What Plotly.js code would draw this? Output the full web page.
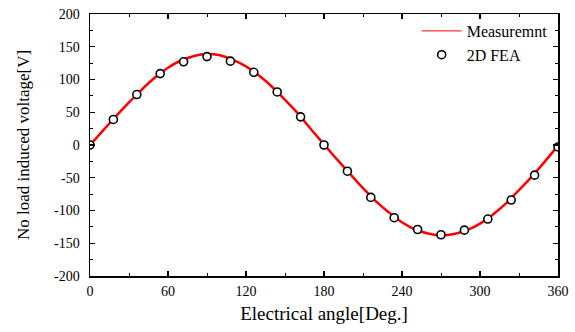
<!DOCTYPE html>
<html>
<head>
<meta charset="utf-8">
<script src="https://cdn.plot.ly/plotly-3.0.1.min.js"></script>
<style>html,body{margin:0;padding:0;background:#fff;}#chart{width:575px;height:332px;}</style>
</head>
<body>
<div id="chart"></div>
<script>
// Measurement (continuous line)
const measAngle = [0,10,20,30,40,50,60,70,80,90,100,110,120,130,140,150,160,170,180,
  190,200,210,220,230,240,250,260,270,280,290,300,310,320,330,340,350,360];
const measVolt = [0,22,44,65,85,103,118,129,136,139,137,130,120,106,89,69,48,24,1,
  -22,-44,-66,-86,-103,-118,-129,-135,-138,-136,-130,-120,-106,-89,-69,-48,-25,-1];
// 2D FEA (markers)
const feaAngle = [0,18,36,54,72,90,108,126,144,162,180,198,216,234,252,270,288,306,324,342,360];
const feaVolt = [0,39,77,109,127,135,128,111,81,43,0,-40,-80,-111,-129,-137,-130,-113,-84,-46,-3];

const xTicks = [0,60,120,180,240,300,360];
const yTicks = [-200,-150,-100,-50,0,50,100,150,200];

const font = "Liberation Serif, Times New Roman, serif";

const traces = [
  {x: measAngle, y: measVolt, name: 'Measuremnt', mode: 'lines', type: 'scatter', showlegend: false,
   line: {color: '#ff0000', width: 2.5, shape: 'spline'}},
  // legend entry only (thin sample line as in the reference)
  {x: [null], y: [null], name: 'Measuremnt', mode: 'lines', type: 'scatter',
   line: {color: '#ff0000', width: 1}},
  {x: feaAngle, y: feaVolt, name: '2D FEA', mode: 'markers', type: 'scatter',
   marker: {symbol: 'circle', size: 8, color: '#ffffff', line: {color: '#000000', width: 1.6}}}
];

const layout = {
  width: 575, height: 332,
  margin: {l: 90, r: 17, t: 14, b: 56},
  paper_bgcolor: '#fff', plot_bgcolor: '#fff',
  font: {family: font, size: 14, color: '#000'},
  showlegend: true,
  legend: {x: 0.698, y: 1.0, xanchor: 'left', yanchor: 'top', bgcolor: 'rgba(0,0,0,0)',
    font: {family: font, size: 16, color: '#000'}, itemwidth: 40, tracegroupgap: 0},
  xaxis: {
    range: [0, 360], tickvals: xTicks, ticktext: xTicks.map(String),
    ticks: 'inside', ticklen: 5, tickwidth: 1.2, tickcolor: '#000',
    minor: {dtick: 30, tick0: 0, ticks: 'inside', ticklen: 3, tickcolor: '#000', tickwidth: 1},
    showline: true, linecolor: '#000', linewidth: 1.5, mirror: 'allticks',
    showgrid: false, zeroline: false, ticklabelstandoff: 2,
    tickfont: {family: font, size: 14, color: '#000'},
    title: {text: 'Electrical angle[Deg.]', font: {family: font, size: 19, color: '#000'}, standoff: 8}
  },
  yaxis: {
    range: [-200, 200], tickvals: yTicks, ticktext: yTicks.map(String),
    ticks: 'inside', ticklen: 5, tickwidth: 1.2, tickcolor: '#000',
    minor: {dtick: 25, tick0: 0, ticks: 'inside', ticklen: 3, tickcolor: '#000', tickwidth: 1},
    showline: true, linecolor: '#000', linewidth: 1.5, mirror: 'allticks',
    showgrid: false, zeroline: false, ticklabelstandoff: 6,
    tickfont: {family: font, size: 14, color: '#000'},
    title: {text: 'No load induced voltage[V]', font: {family: font, size: 17, color: '#000'}, standoff: 20}
  }
};

Plotly.newPlot('chart', traces, layout, {displayModeBar: false, staticPlot: true});
</script>
</body>
</html>
